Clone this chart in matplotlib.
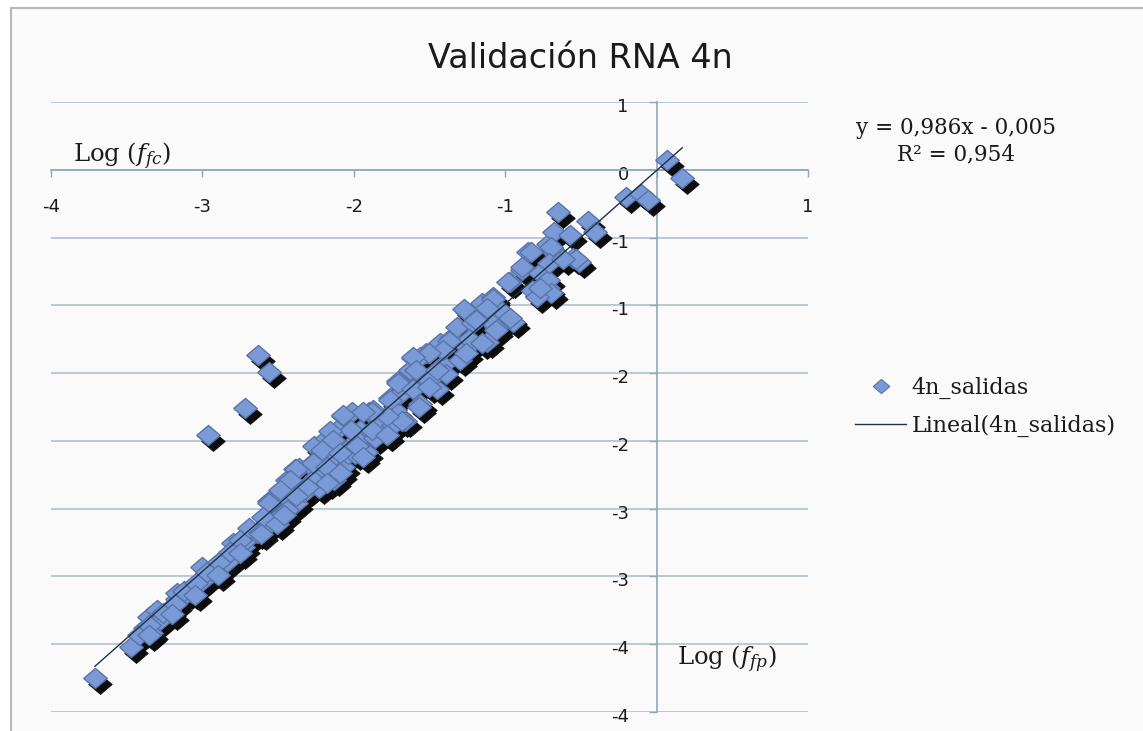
import numpy as np
import matplotlib
matplotlib.use("Agg")
import matplotlib.pyplot as plt
import matplotlib.transforms as mtransforms
from matplotlib.patches import Rectangle
from matplotlib.lines import Line2D

# ---------------- data ----------------
x_vals = [-3.71, -3.47, -3.38, -3.34, -3.35, -3.30, -3.28, -3.22, -3.17, -3.15,
          -3.17, -3.10, -3.07, -3.02, -3.00, -3.00, -2.93, -2.91, -2.84, -2.80,
          -2.77, -2.73, -2.71, -2.64, -2.58, -2.56, -2.47, -2.56, -2.44, -2.40,
          -2.38, -2.39, -2.36, -2.33, -2.31, -2.29, -2.26, -2.25, -2.23, -2.21,
          -2.18, -2.14, -2.11, -2.07, -2.07, -2.01, -1.96, -1.92, -1.90, -1.85,
          -1.78, -1.71, -1.66, -1.61, -1.58, -1.56, -1.52, -1.63, -1.45, -1.61,
          -1.76, -1.87, -2.01, -1.56, -1.50, -1.41, -1.30, -1.43, -1.36, -1.25,
          -1.12, -1.32, -1.21, -1.06, -1.25, -1.15, -1.08, -0.99, -0.95, -1.12,
          -0.97, -0.82, -0.72, -0.89, -0.77, -0.85, -0.68, -0.72, -0.55, -0.51,
          -0.68, -0.57, -0.65, -0.45, -0.41, -0.53, -0.70, -0.72, -0.70, -0.79,
          -0.20, -0.10, -0.06, 0.07, 0.17,
          -2.47, -2.27, -2.16, -2.04, -1.98, -1.83, -1.73, -1.70, -1.50, -1.39,
          -1.24, -1.04, -2.13, -1.99, -1.86, -1.74,
          -0.83, -0.89, -0.98, -0.77, -0.71, -0.62, -1.08, -0.97, -1.27, -1.19,
          -1.12, -1.06, -1.15, -1.26, -1.37, -1.41, -1.50, -1.61, -1.59, -1.45,
          -1.71, -1.61, -1.50, -1.57, -1.68, -1.76, -1.78, -1.88, -1.94, -2.07,
          -2.02, -1.88, -1.78, -2.16, -2.14, -2.21, -2.09, -1.98, -1.94, -2.27,
          -2.18, -2.09, -2.38, -2.42, -2.31, -2.18, -2.49, -2.38, -2.56, -2.44,
          -2.60, -2.51, -2.69, -2.62, -2.75,
          -3.42, -3.35, -3.26, -3.18, -3.12, -3.04, -2.97, -2.89, -2.82,
          -3.35, -3.20, -3.05, -2.90, -2.75, -2.61, -2.46,
          -2.63, -2.56, -2.72, -2.96]
y_vals = [-3.75, -3.52, -3.38, -3.42, -3.30, -3.25, -3.32, -3.25, -3.17, -3.15,
          -3.12, -3.12, -3.12, -3.05, -3.03, -2.93, -2.97, -2.97, -2.89, -2.75,
          -2.78, -2.78, -2.73, -2.68, -2.61, -2.61, -2.53, -2.44, -2.29, -2.44,
          -2.46, -2.21, -2.20, -2.38, -2.36, -2.18, -2.04, -2.27, -2.35, -2.08,
          -1.98, -2.27, -1.92, -1.82, -2.19, -2.03, -1.92, -2.08, -1.79, -1.82,
          -1.96, -1.56, -1.85, -1.39, -1.53, -1.73, -1.35, -1.48, -1.62, -1.62,
          -1.68, -1.77, -1.79, -1.38, -1.35, -1.44, -1.40, -1.28, -1.24, -1.31,
          -1.27, -1.16, -1.13, -1.16, -1.05, -0.98, -0.94, -1.08, -1.12, -1.09,
          -0.83, -0.89, -0.87, -0.74, -0.76, -0.61, -0.61, -0.55, -0.65, -0.68,
          -0.46, -0.48, -0.31, -0.38, -0.46, -0.66, -0.57, -0.81, -0.91, -0.94,
          -0.20, -0.18, -0.22, 0.07, -0.06,
          -2.40, -2.29, -2.14, -2.10, -1.99, -1.88, -1.77, -1.66, -1.55, -1.51,
          -1.25, -1.03, -2.29, -2.10, -1.98, -1.88,
          -0.61, -0.72, -0.83, -0.87, -0.69, -0.66, -0.95, -1.09, -1.03, -1.11,
          -1.02, -1.18, -1.28, -1.35, -1.26, -1.33, -1.35, -1.38, -1.48, -1.48,
          -1.57, -1.62, -1.60, -1.75, -1.85, -1.70, -1.82, -1.79, -1.79, -1.81,
          -1.92, -1.92, -1.96, -1.93, -1.99, -2.07, -2.09, -2.04, -2.12, -2.16,
          -2.19, -2.24, -2.21, -2.29, -2.34, -2.31, -2.36, -2.41, -2.46, -2.51,
          -2.56, -2.61, -2.64, -2.68, -2.73,
          -3.43, -3.36, -3.27, -3.20, -3.11, -3.05, -2.97, -2.89, -2.82,
          -3.43, -3.28, -3.14, -2.99, -2.83, -2.69, -2.55,
          -1.365, -1.49, -1.76, -1.96]

slope = 0.986
intercept = -0.005
r_squared = 0.954

series_name = "4n_salidas"
trend_name = "Lineal(4n_salidas)"
title_text = "Validación RNA 4n"

x_ticks = [-4, -3, -2, -1, 0, 1]
x_tick_labels = ["-4", "-3", "-2", "-1", "0", "1"]
y_ticks = [0.5, 0, -0.5, -1, -1.5, -2, -2.5, -3, -3.5, -4]
y_tick_labels = ["1", "0", "-1", "-1", "-2", "-2", "-3", "-3", "-4", "-4"]

# ---------------- style ----------------
W, H = 1143, 731
SANS = ["DejaVu Sans"]
SERIF = ["DejaVu Serif"]
plt.rcParams["mathtext.fontset"] = "dejavuserif"

axis_col = "#8fa8b6"
grid_col = "#b0c2cc"
face_col = "#7a9ad7"
edge_col = "#5a74a8"
shadow_col = "#0c0c0c"
trend_col = "#1c3342"
text_col = "#1a1a1a"

diamond = [(-1, 0), (0, 0.85), (1, 0), (0, -0.85), (-1, 0)]

fig = plt.figure(figsize=(W / 100, H / 100), dpi=100)
fig.patch.set_facecolor("white")

# chart frame (Excel chart area), drawn beneath the axes
frame = Rectangle((11 / W, -0.1), 1.2, (1 - 8 / H) + 0.1, transform=fig.transFigure,
                  facecolor="#fafafa", edgecolor="#b8b8b8", linewidth=1.5, zorder=-5)
fig.patches.append(frame)

ax = fig.add_axes([51 / W, 1 - 712 / H, (808 - 51) / W, (712 - 102) / H])
ax.set_facecolor("none")
ax.set_zorder(1)
ax.set_xlim(-4, 1)
ax.set_ylim(-4, 0.5)

for s in ("top", "right"):
    ax.spines[s].set_visible(False)
ax.spines["left"].set_position(("data", 0))
ax.spines["bottom"].set_position(("data", 0))
for s in ("left", "bottom"):
    ax.spines[s].set_color(axis_col)
    ax.spines[s].set_linewidth(1.2)
    ax.spines[s].set_zorder(2)

ax.set_xticks(x_ticks)
ax.set_xticklabels(x_tick_labels)
ax.set_yticks(y_ticks)
ax.set_yticklabels(y_tick_labels)
ax.tick_params(axis="x", direction="out", length=5, width=1, color=axis_col,
               pad=15, labelsize=13, labelcolor=text_col)
ax.tick_params(axis="y", direction="out", length=6, width=1, color=axis_col,
               pad=14, labelsize=13, labelcolor=text_col)
for lab in ax.get_xticklabels() + ax.get_yticklabels():
    lab.set_fontfamily(SANS)
off = mtransforms.ScaledTranslation(0, -0.03, fig.dpi_scale_trans)
for lab in ax.get_yticklabels():
    lab.set_transform(lab.get_transform() + off)

ax.yaxis.grid(True, color=grid_col, linewidth=1.2)
ax.set_axisbelow(True)

# scatter with drop shadow
shadow_tr = mtransforms.offset_copy(ax.transData, fig=fig, x=5, y=-6, units="dots")
ax.plot(x_vals, y_vals, ls="none", marker=diamond, ms=17, mfc=shadow_col,
        mec=shadow_col, mew=0.5, transform=shadow_tr, zorder=3)
ax.plot(x_vals, y_vals, ls="none", marker=diamond, ms=17, mfc=face_col,
        mec=edge_col, mew=1.0, zorder=4)

# linear trend line over the data range
xs = np.array([min(x_vals), max(x_vals)])
ax.plot(xs, slope * xs + intercept, color=trend_col, lw=1.0, zorder=5)

# texts
fig.text(580 / W, 1 - 58 / H, title_text, ha="center", va="center",
         fontsize=24, family=SANS, color=text_col)
fig.text(73 / W, 1 - 156 / H, r"Log ($f_{fc}$)", ha="left", va="center",
         fontsize=17.5, family=SERIF, color=text_col)
fig.text(677 / W, 1 - 659 / H, r"Log ($f_{fp}$)", ha="left", va="center",
         fontsize=17.5, family=SERIF, color=text_col)

eq1 = "y = {:.3f}x - {:.3f}".format(slope, abs(intercept)).replace(".", ",")
eq2 = "R² = {:.3f}".format(r_squared).replace(".", ",")
fig.text(956 / W, 1 - 128 / H, eq1, ha="center", va="center",
         fontsize=15.5, family=SERIF, color=text_col)
fig.text(956 / W, 1 - 154 / H, eq2, ha="center", va="center",
         fontsize=15.5, family=SERIF, color=text_col)

# legend
handles = [Line2D([], [], ls="none", marker=diamond, ms=12, mfc=face_col, mec=edge_col, mew=0.8),
           Line2D([], [], color=trend_col, lw=1.0)]
leg = fig.legend(handles, [series_name, trend_name], loc="center left",
                 bbox_to_anchor=(855 / W, 1 - 407 / H), bbox_transform=fig.transFigure,
                 frameon=False, borderpad=0, borderaxespad=0, handlelength=2.3,
                 handletextpad=0.25, labelspacing=0.7,
                 prop={"family": SERIF, "size": 16})
for t in leg.get_texts():
    t.set_color(text_col)

fig.savefig("out.png", dpi=100, facecolor="white")
